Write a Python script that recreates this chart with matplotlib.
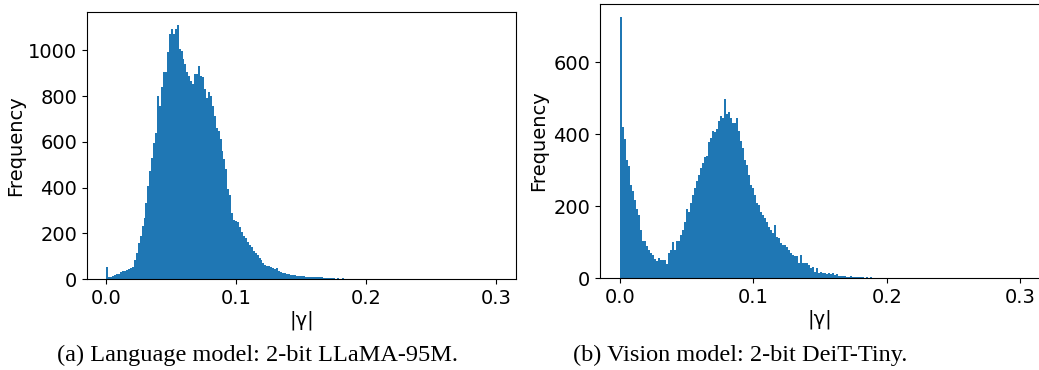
#  Histograms of |gamma| for two 2-bit models

import matplotlib
matplotlib.use("Agg")
import matplotlib.pyplot as plt
from matplotlib.ticker import MultipleLocator
import numpy as np


# bin edges shared by both panels: 200 bins on [0, 0.3]
bin_lo = 0.0
bin_hi = 0.3
n_bins = 200

# (a) Language model: counts per bin
lang_counts = [
    55, 12, 10, 14, 18, 22, 25, 30, 35, 38,
    42, 44, 48, 55, 85, 114, 158, 187, 231, 268,
    333, 406, 472, 531, 596, 640, 801, 757, 838, 903,
    903, 991, 1072, 1094, 1072, 1094, 1111, 1006, 998, 962,
    940, 903, 889, 867, 852, 896, 896, 933, 889, 882,
    830, 793, 818, 801, 757, 713, 662, 648, 611, 560,
    523, 480, 392, 370, 289, 260, 255, 250, 230, 205,
    187, 180, 165, 150, 140, 125, 114, 105, 95, 85,
    72, 62, 58, 56, 52, 48, 45, 50, 36, 32,
    28, 26, 25, 22, 20, 19, 18, 16, 15, 14,
    15, 13, 12, 11, 12, 10, 11, 10, 9, 8,
    9, 7, 6, 6, 5, 6, 4, 3, 4, 3,
    3, 4, 2, 3, 3, 2, 3, 2, 2, 1,
    2, 1, 1, 0, 1, 1, 1, 0, 1, 0,
    1, 0, 0, 1, 0, 0, 0, 1, 0, 1,
    0, 0, 1, 0, 0, 0, 0, 0, 0, 0,
    1, 0, 0, 0, 0, 0, 0, 0, 0, 0,
    0, 0, 0, 0, 0, 1, 0, 0, 0, 0,
    0, 0, 0, 0, 0, 0, 0, 0, 0, 0,
    0, 0, 0, 0, 0, 0, 0, 0, 0, 1,
]

# (b) Vision model: counts per bin
vis_counts = [
    726, 420, 386, 328, 313, 259, 242, 217, 193, 175,
    133, 103, 103, 88, 77, 70, 63, 54, 47, 55,
    49, 51, 49, 40, 70, 77, 100, 77, 102, 102,
    119, 133, 156, 193, 184, 210, 230, 250, 270, 287,
    305, 320, 338, 340, 378, 390, 408, 405, 414, 436,
    450, 445, 497, 455, 461, 445, 431, 431, 445, 408,
    380, 362, 329, 315, 287, 259, 250, 232, 208, 204,
    185, 176, 166, 157, 143, 134, 125, 148, 115, 111,
    97, 92, 92, 87, 78, 69, 64, 60, 61, 41,
    64, 43, 43, 41, 36, 27, 32, 18, 27, 15,
    18, 13, 15, 11, 13, 10, 15, 8, 10, 7,
    6, 6, 6, 4, 4, 5, 3, 4, 2, 3,
    2, 3, 1, 2, 1, 2, 1, 1, 0, 1,
    1, 0, 1, 0, 0, 1, 0, 1, 0, 0,
    1, 0, 0, 0, 0, 1, 0, 0, 0, 0,
    0, 0, 0, 0, 0, 0, 0, 0, 0, 0,
    0, 0, 0, 0, 0, 0, 0, 0, 0, 0,
    0, 0, 0, 0, 0, 0, 0, 0, 0, 0,
    0, 0, 0, 0, 0, 0, 0, 0, 0, 0,
    0, 0, 0, 0, 0, 0, 0, 0, 0, 1,
]

captions = ["(a) Language model: 2-bit LLaMA-95M.",
            "(b) Vision model: 2-bit DeiT-Tiny."]


def draw_hist(ax, counts):
    edges = np.linspace(bin_lo, bin_hi, n_bins + 1)
    ax.hist(edges[:-1], bins=edges, weights=counts, color='#1f77b4')
    ax.set_xlim(-0.015, 0.315)
    ax.xaxis.set_major_locator(MultipleLocator(0.1))
    ax.set_xlabel('|γ|', fontsize=14, labelpad=2)
    ax.set_ylabel('Frequency', fontsize=14)
    ax.tick_params(labelsize=14)


fig = plt.figure(figsize=(10.39, 3.70), dpi=100)
ax1 = fig.add_axes([0.0837, 0.2451, 0.4129, 0.7224])
ax2 = fig.add_axes([0.5775, 0.2486, 0.4235, 0.7405])
draw_hist(ax1, lang_counts)
draw_hist(ax2, vis_counts)
ax1.yaxis.labelpad = 2

# sub-figure captions, LaTeX style
fig.text(0.248, 0.04, captions[0], ha='center', va='center',
         fontsize=17.5, family='Liberation Serif')
fig.text(0.712, 0.04, captions[1], ha='center', va='center',
         fontsize=17.5, family='Liberation Serif')

fig.savefig('out.png', dpi=100)
